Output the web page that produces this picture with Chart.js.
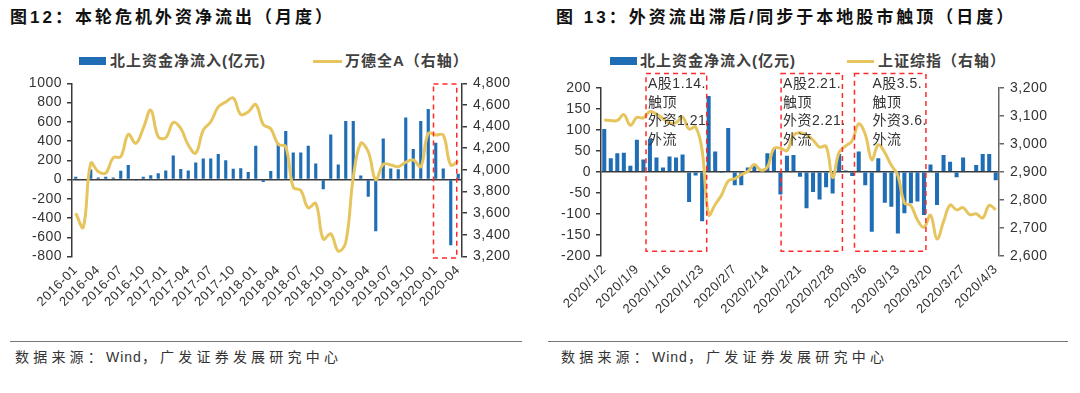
<!DOCTYPE html>
<html>
<head>
<meta charset="utf-8">
<script src="https://cdn.jsdelivr.net/npm/chart.js@4.4.0/dist/chart.umd.min.js"></script>
<style>
  body { margin: 0; background: #fff; width: 1080px; height: 393px; position: relative; overflow: hidden;
         font-family: "Liberation Sans", "Noto Sans CJK SC", sans-serif; color: #111; }
  .title { position: absolute; top: 8px; font-size: 17px; font-weight: bold; letter-spacing: 3px; white-space: nowrap; line-height: 20px; }
  .src { position: absolute; top: 348px; font-size: 14px; letter-spacing: 4.2px; color: #333; white-space: nowrap; line-height: 18px; }
  .src span { letter-spacing: 1px; }
  .rule { position: absolute; top: 341px; height: 0; border-top: 1px solid #777; }
  .plot { position: absolute; top: 40px; }
  .lg { position: absolute; top: 52px; font-size: 15px; font-weight: bold; letter-spacing: 1px; color: #404040; white-space: nowrap; line-height: 18px; }
  .sw { position: absolute; height: 8px; }
  .ln { position: absolute; height: 3px; }
</style>
</head>
<body>
<div class="title" style="left:10px">图12：本轮危机外资净流出（月度）</div>
<div class="title" style="left:556px">图 13：外资流出滞后/同步于本地股市触顶（日度）</div>

<div class="sw" style="left:79px;top:57px;width:27px;background:#1f6eb5"></div>
<div class="lg" style="left:110px">北上资金净流入(亿元)</div>
<div class="ln" style="left:313px;top:60px;width:29px;background:#e6c55e"></div>
<div class="lg" style="left:345px">万德全A（右轴）</div>

<div class="sw" style="left:610px;top:57px;width:27px;background:#1f6eb5"></div>
<div class="lg" style="left:640px">北上资金净流入(亿元)</div>
<div class="ln" style="left:847px;top:60px;width:27px;background:#e6c55e"></div>
<div class="lg" style="left:878px">上证综指（右轴）</div>

<canvas id="left" class="plot" style="left:0px" width="540" height="300"></canvas>
<canvas id="right" class="plot" style="left:540px" width="540" height="300"></canvas>

<div class="rule" style="left:10px;width:512px"></div>
<div class="rule" style="left:548px;width:520px"></div>
<div class="src" style="left:15px">数据来源：<span>Wind</span>，广发证券发展研究中心</div>
<div class="src" style="left:561px">数据来源：<span>Wind</span>，广发证券发展研究中心</div>

<script>
// ---- 图12 data (monthly) ----
const months = [
  '2016-01','2016-02','2016-03','2016-04','2016-05','2016-06','2016-07','2016-08','2016-09','2016-10','2016-11','2016-12',
  '2017-01','2017-02','2017-03','2017-04','2017-05','2017-06','2017-07','2017-08','2017-09','2017-10','2017-11','2017-12',
  '2018-01','2018-02','2018-03','2018-04','2018-05','2018-06','2018-07','2018-08','2018-09','2018-10','2018-11','2018-12',
  '2019-01','2019-02','2019-03','2019-04','2019-05','2019-06','2019-07','2019-08','2019-09','2019-10','2019-11','2019-12',
  '2020-01','2020-02','2020-03','2020-04'
];
// 北上资金净流入(亿元)
const northMonthly = [
  30, 0, 105, 20, 30, 20, 90, 150, -10, 30, 45, 65,
  95, 250, 110, 95, 177, 218, 218, 264, 201, 113, 118, 78,
  350, -25, 88, 375, 503, 281, 281, 350, 167, -100, 468, 156,
  607, 607, 42, -180, -538, 427, 115, 108, 645, 316, 607, 732,
  382, 115, -684, 59
];
// 万德全A
const windA = [
  3600, 3470, 4062, 3985, 3970, 4113, 4122, 4328, 4245, 4383, 4552, 4306,
  4297, 4438, 4383, 4230, 4155, 4368, 4445, 4582, 4628, 4665, 4512, 4536,
  4604, 4420, 4380, 4236, 4214, 3840, 3810, 3650, 3690, 3360, 3410, 3250,
  3330, 3930, 4245, 4168, 3908, 4052, 4046, 4030, 4071, 4092, 4030, 4337,
  4322, 4322, 4046, 4083
];

// ---- 图13 data (daily) ----
const days = [
  '2020/1/2','2020/1/3','2020/1/6','2020/1/7','2020/1/8','2020/1/9','2020/1/10','2020/1/13','2020/1/14','2020/1/15',
  '2020/1/16','2020/1/17','2020/1/20','2020/1/21','2020/1/22','2020/1/23','2020/2/3','2020/2/4','2020/2/5','2020/2/6',
  '2020/2/7','2020/2/10','2020/2/11','2020/2/12','2020/2/13','2020/2/14','2020/2/17','2020/2/18','2020/2/19','2020/2/20',
  '2020/2/21','2020/2/24','2020/2/25','2020/2/26','2020/2/27','2020/2/28','2020/3/2','2020/3/3','2020/3/4','2020/3/5',
  '2020/3/6','2020/3/9','2020/3/10','2020/3/11','2020/3/12','2020/3/13','2020/3/16','2020/3/17','2020/3/18','2020/3/19',
  '2020/3/20','2020/3/23','2020/3/24','2020/3/25','2020/3/26','2020/3/27','2020/3/30','2020/3/31','2020/4/1','2020/4/2',
  '2020/4/3'
];
const northDaily = [
  102, 32, 44, 45, 14, 76, 29, 78, 34, 10, 36, 34, 41, -72, -9, -118, 180, 48, -3, 104,
  -32, -32, 10, 15, 3, 44, 54, -54, 38, 40, -12,
  -87, -48, -66, -37, -52, 42, 3, -10, 48, -32,
  -143, 32, -74, -83, -147, -99, -75, -71, -103, 17,
  -79, 40, 24, -13, 34, -2, 16, 42, 42, -20
];
const shComp = [
  3085, 3083, 3083, 3104, 3066, 3094, 3092, 3115, 3106, 3090, 3074, 3075, 3095, 3052, 3060, 2976,
  2746, 2783, 2818, 2867, 2875, 2890, 2901, 2926, 2906, 2917, 2983, 2984, 2975, 3030, 3039, 3031, 3013, 2988, 2991, 2880,
  2970, 2992, 3011, 3071, 3034, 2943, 2996, 2968, 2923, 2887, 2789, 2779, 2728, 2702, 2745, 2660, 2722, 2781, 2764, 2772, 2747, 2750,
  2735, 2780, 2764
];

// red dashed boxes (in category index / left-axis units) and their notes
const leftBoxes = [{ from: 47.7, to: 50.8, top: 993, bottom: -815 }];
const rightBoxes = [
  { from: 6.4, to: 15.7, top: 234, bottom: -189, dx: 2, note: ['A股1.14.', '触顶', '外资1.21.', '外流'] },
  { from: 27.1, to: 36.5, top: 234, bottom: -189, dx: 2, note: ['A股2.21.', '触顶', '外资2.21.', '外流'] },
  { from: 38.35, to: 49.3, top: 234, bottom: -189, dx: 18, note: ['A股3.5.', '触顶', '外资3.6.', '外流'] }
];

const BLUE = '#1f6eb5';
const GOLD = '#e6c55e';
const AXIS = '#3a3a3a';
const TICK = '#333';

const spacing = {
  id: 'spacing',
  beforeUpdate(c) { c.ctx.letterSpacing = '0.5px'; },
  beforeDraw(c) { c.ctx.letterSpacing = '0.5px'; }
};

const dashBoxes = {
  id: 'dashBoxes',
  afterDraw(chart, args, opts) {
    const { ctx } = chart;
    const x = chart.scales.x, y = chart.scales.y;
    ctx.save();
    opts.boxes.forEach(b => {
      const l = x.getPixelForValue(b.from), r = x.getPixelForValue(b.to);
      const t = y.getPixelForValue(b.top), bt = y.getPixelForValue(b.bottom);
      ctx.strokeStyle = '#ff2a2a';
      ctx.lineWidth = 1.5;
      ctx.setLineDash([5, 4]);
      ctx.strokeRect(l, t, r - l, bt - t);
      if (b.note) {
        ctx.setLineDash([]);
        ctx.fillStyle = '#333';
        ctx.font = '14px "Liberation Sans", "Noto Sans CJK SC"';
        ctx.textBaseline = 'middle';
        ctx.textAlign = 'left';
        b.note.forEach((s, k) => ctx.fillText(s, l + b.dx, t + 11 + k * 18.5));
      }
    });
    ctx.restore();
  }
};

function makeChart(id, cfg) {
  return new Chart(document.getElementById(id), {
    type: 'bar',
    data: {
      labels: cfg.labels,
      datasets: [
        { type: 'bar', label: cfg.barLabel, data: cfg.bars, yAxisID: 'y', backgroundColor: BLUE,
          barPercentage: cfg.barPct, categoryPercentage: 1, order: 2 },
        { type: 'line', label: cfg.lineLabel, data: cfg.line, yAxisID: 'y1', borderColor: GOLD,
          borderWidth: 3, pointRadius: 0, tension: 0.4, fill: false, order: 1 }
      ]
    },
    options: {
      responsive: false,
      animation: false,
      layout: { padding: { top: cfg.top, left: 0, right: 0, bottom: 0 } },
      plugins: { legend: { display: false }, tooltip: { enabled: false }, dashBoxes: { boxes: cfg.boxes } },
      scales: {
        x: {
          grid: { display: false, drawTicks: false },
          border: { display: false },
          ticks: {
            autoSkip: false, maxRotation: 45, minRotation: 45, padding: 6, color: TICK,
            font: { size: 13, family: '"Liberation Sans", Arial' },
            callback: (v, i) => (i % cfg.every === 0 ? cfg.labels[i] : '')
          },
          afterFit: s => { s.height = cfg.xh; }
        },
        y: {
          position: 'left', min: cfg.yMin, max: cfg.yMax,
          ticks: { stepSize: cfg.yStep, autoSkip: false, padding: 5, color: TICK,
                   font: { size: 14, family: '"Liberation Sans", Arial' },
                   callback: v => String(v) },
          border: { color: AXIS, width: 1.5 },
          grid: { lineWidth: 1.5, tickLength: 5, tickColor: AXIS, tickWidth: 1.5,
                  color: c => (c.tick && c.tick.value === 0 ? AXIS : 'rgba(0,0,0,0)') },
          afterFit: s => { s.width = cfg.wl; }
        },
        y1: {
          position: 'right', min: cfg.rMin, max: cfg.rMax,
          ticks: { stepSize: cfg.rStep, autoSkip: false, padding: 6, color: TICK,
                   font: { size: 14, family: '"Liberation Sans", Arial' },
                   callback: v => v.toLocaleString('en-US') },
          border: { color: cfg.rColor, width: 1.5 },
          grid: { drawOnChartArea: false, tickLength: 5, color: cfg.rColor, lineWidth: 1.5 },
          afterFit: s => { s.width = cfg.wr; }
        }
      }
    },
    plugins: [spacing, dashBoxes]
  });
}

makeChart('left', {
  labels: months, bars: northMonthly, line: windA,
  barLabel: '北上资金净流入(亿元)', lineLabel: '万德全A（右轴）',
  barPct: 0.42, every: 3, top: 43.3, xh: 83.5, wl: 72, wr: 78,
  yMin: -800, yMax: 1000, yStep: 200, rMin: 3200, rMax: 4800, rStep: 200, rColor: AXIS,
  boxes: leftBoxes
});

makeChart('right', {
  labels: days, bars: northDaily, line: shComp,
  barLabel: '北上资金净流入(亿元)', lineLabel: '上证综指（右轴）',
  barPct: 0.62, every: 5, top: 47.7, xh: 84.2, wl: 61, wr: 81,
  yMin: -200, yMax: 200, yStep: 50, rMin: 2600, rMax: 3200, rStep: 100, rColor: '#666',
  boxes: rightBoxes
});
</script>
</body>
</html>
